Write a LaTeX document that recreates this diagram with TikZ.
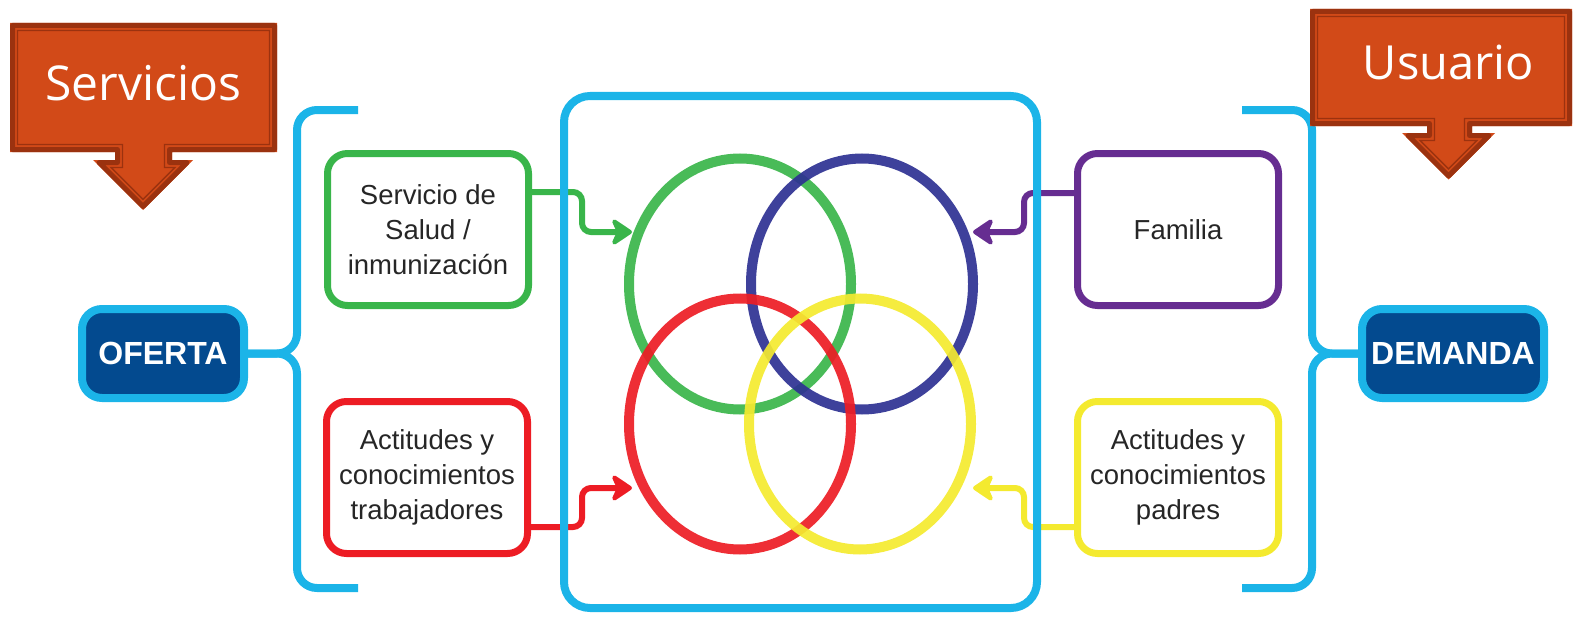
\documentclass[tikz,border=0pt]{standalone}
\usepackage{fontspec}
\setmainfont{Liberation Sans}
\newfontfamily\calfont{Open Sans}
\usetikzlibrary{arrows.meta,shapes.geometric}
\definecolor{cyanb}{HTML}{1BB4E8}
\definecolor{navyb}{HTML}{034A8F}
\definecolor{greenb}{HTML}{39B54A}
\definecolor{blueb}{HTML}{2E3192}
\definecolor{redb}{HTML}{ED1C24}
\definecolor{yellowb}{HTML}{F4EA2F}
\definecolor{purpleb}{HTML}{662D91}
\definecolor{orangeb}{HTML}{D24A18}
\definecolor{darkorange}{HTML}{9B320F}
\definecolor{textgray}{HTML}{262626}
\newcommand\callpath[1]{({\cxa+#1},{\cya+#1}) -- ({\cxb-#1},{\cya+#1}) -- ({\cxb-#1},{\cyb-#1}) -- ({\sxb-#1},{\cyb-#1}) -- ({\sxb-#1},{\hy+#1}) -- ({\hxb-2.4142*#1},{\hy+#1}) -- ({(\hxa+\hxb)/2},{\hy+(\hxb-\hxa)/2-1.4142*#1}) -- ({\hxa+2.4142*#1},{\hy+#1}) -- ({\sxa+#1},{\hy+#1}) -- ({\sxa+#1},{\cyb-#1}) -- ({\cxa+#1},{\cyb-#1}) -- cycle}
\tikzset{
  infobox/.style={draw=#1, line width=7pt, rounded corners=20pt, fill=white,
    text=textgray, align=center, inner sep=0pt,
    font=\fontsize{27.5}{35}\selectfont, minimum width=201pt, minimum height=152pt},
  tagbox/.style={draw=cyanb, line width=8pt, fill=navyb, rounded corners=20pt,
    text=white, font=\bfseries\fontsize{32}{32}\selectfont, inner sep=0pt,
    minimum height=89pt},
  ring/.style={ellipse, draw=#1, line width=10pt, draw opacity=0.92, inner sep=0pt,
    minimum width=222pt, minimum height=251pt},
  linkarrow/.style={draw=#1, line width=6pt, rounded corners=9pt,
    -{Stealth[length=24pt, width=32pt, inset=7pt, round]}},
  bracket/.style={draw=cyanb, line width=8pt, rounded corners=20pt},
  calltext/.style={text=white, font=\calfont, anchor=base, inner sep=0pt},
}
\begin{document}
\begin{tikzpicture}[x=1pt,y=-1pt]
\useasboundingbox (0,0) rectangle (1575,618);

% rings
\node[ring=greenb] (cg) at (740,284) {};
\node[ring=blueb] (cb) at (862,284) {};
\node[ring=redb] (cr) at (740,424) {};
\node[ring=yellowb] (cy) at (860,424) {};

% boxes
\node[infobox=greenb] (gbox) at (428,229.5) {Servicio de\\Salud /\\inmunización};
\node[infobox=redb] (rbox) at (427,477.5) {Actitudes y\\conocimientos\\trabajadores};
\node[infobox=purpleb] (pbox) at (1178,229.5) {Familia};
\node[infobox=yellowb] (ybox) at (1178,477.5) {Actitudes y\\conocimientos\\padres};

% arrow ends
\coordinate (gtip) at (632,232);
\coordinate (rtip) at (632,488);
\coordinate (ptip) at (973,232);
\coordinate (ytip) at (973,488);

\draw[linkarrow=greenb] (gbox.east |- 0,192) -- (582,192) -- (582,232) -- (gtip);
\draw[linkarrow=redb] (rbox.east |- 0,527) -- (582,527) -- (582,488) -- (rtip);
\draw[linkarrow=purpleb] (pbox.west |- 0,193) -- (1024,193) -- (1024,232) -- (ptip);
\draw[linkarrow=yellowb] (ybox.west |- 0,527) -- (1024,527) -- (1024,488) -- (ytip);

% central frame
\node[draw=cyanb, line width=8pt, rounded corners=26pt, minimum width=473pt,
  minimum height=512pt, inner sep=0pt] (frame) at (800.5,352) {};

% tags
\node[tagbox, minimum width=162pt] (oferta) at (163,353.5) {OFERTA};
\node[tagbox, minimum width=182pt] (demanda) at (1453,353.5) {DEMANDA};

% brackets
\coordinate (ltop) at (358,110);
\coordinate (lbot) at (358,588);
\coordinate (rtop) at (1242,110);
\coordinate (rbot) at (1242,588);
\draw[bracket] (ltop) -| (297,353.5) -- (oferta.east);
\draw[bracket] (lbot) -| (297,353.5) -- (oferta.east);
\draw[bracket] (rtop) -| (1312,353.5) -- (demanda.west);
\draw[bracket] (rbot) -| (1312,353.5) -- (demanda.west);

% callout Servicios
\begin{scope}
\def\cxa{10}\def\cya{23}\def\cxb{277}\def\cyb{152}
\def\sxa{115}\def\sxb{172}\def\hy{160}\def\hxa{93}\def\hxb{193}
\fill[orangeb] \callpath{0};
\draw[darkorange, line width=5pt, line join=round] \callpath{2.5};
\draw[darkorange, line width=1.3pt] \callpath{7.5};
\node[calltext, font=\calfont\fontsize{48}{48}\selectfont] (serv) at (143.5,100) {Servicios};
\end{scope}

% callout Usuario
\begin{scope}
\def\cxa{1310}\def\cya{9}\def\cxb{1572}\def\cyb{126}
\def\sxa{1427}\def\sxb{1472}\def\hy{133}\def\hxa{1402}\def\hxb{1495}
\fill[orangeb] \callpath{0};
\draw[darkorange, line width=5pt, line join=round] \callpath{2.5};
\draw[darkorange, line width=1.3pt] \callpath{7.5};
\node[calltext, font=\calfont\fontsize{47}{47}\selectfont] (usu) at (1448.5,80) {Usuario};
\end{scope}
\end{tikzpicture}
\end{document}
